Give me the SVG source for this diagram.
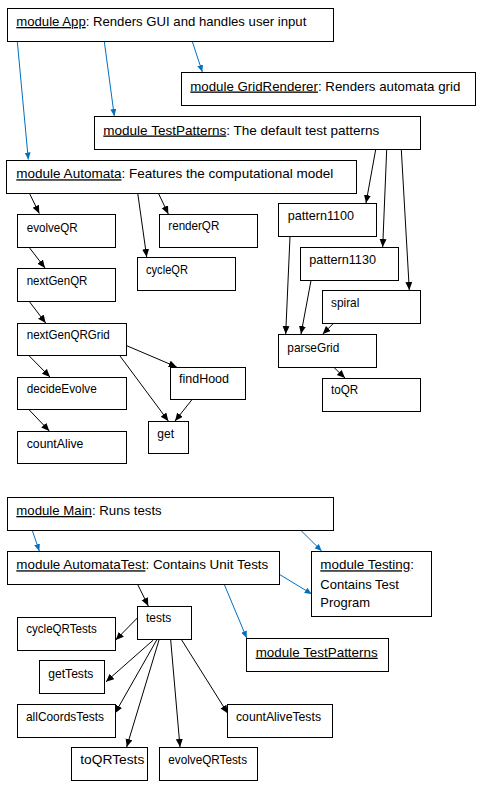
<svg xmlns="http://www.w3.org/2000/svg" width="486" height="790" viewBox="0 0 486 790">
<style>
rect{fill:#fff;stroke:#000;stroke-width:1}
text{font-family:"Liberation Sans",Arial,sans-serif;font-size:13px;fill:#000}
.u{text-decoration:underline}
.k{stroke:#000;stroke-width:1;fill:none;marker-end:url(#ak)}
.b{stroke:#0070C0;stroke-width:1;fill:none;marker-end:url(#ab)}
</style>
<defs>
<marker id="ak" markerUnits="userSpaceOnUse" markerWidth="9" markerHeight="8" refX="8" refY="3.5" orient="auto"><path d="M0,0 L8,3.5 L0,7 z" fill="#000"/></marker>
<marker id="ab" markerUnits="userSpaceOnUse" markerWidth="8" markerHeight="7" refX="7" refY="3" orient="auto"><path d="M0,0 L7,3 L0,6 z" fill="#0070C0"/></marker>
</defs>
<g id="connectors">
<line class="b" x1="17.3" y1="41.5" x2="28.3" y2="159.5"/>
<line class="b" x1="104.3" y1="41.5" x2="114.3" y2="116"/>
<line class="b" x1="192.3" y1="41.5" x2="202.3" y2="72"/>
<line class="k" x1="29.3" y1="193" x2="39.3" y2="213.5"/>
<line class="k" x1="158.3" y1="193" x2="168.3" y2="214"/>
<line class="k" x1="137.7" y1="193" x2="146.7" y2="257"/>
<line class="k" x1="29.3" y1="247.5" x2="45" y2="268"/>
<line class="k" x1="29.3" y1="301.5" x2="45.7" y2="323"/>
<line class="k" x1="29.3" y1="356" x2="50" y2="377"/>
<line class="k" x1="29.3" y1="410" x2="49.3" y2="431"/>
<line class="k" x1="126.7" y1="345.7" x2="176.7" y2="367"/>
<line class="k" x1="120" y1="356" x2="168.3" y2="421"/>
<line class="k" x1="191.7" y1="400" x2="175" y2="421"/>
<line class="k" x1="375.7" y1="149.5" x2="366" y2="203"/>
<line class="k" x1="386.7" y1="149.5" x2="382.7" y2="247"/>
<line class="k" x1="401.3" y1="149.5" x2="409.3" y2="290"/>
<line class="k" x1="290" y1="236.5" x2="285.7" y2="334"/>
<line class="k" x1="311" y1="280.5" x2="301" y2="334"/>
<line class="k" x1="333.3" y1="323.5" x2="322.7" y2="334"/>
<line class="k" x1="334" y1="367.5" x2="345" y2="378"/>
<line class="b" x1="32.3" y1="530.5" x2="39.3" y2="551"/>
<line class="b" x1="301" y1="530.5" x2="321.7" y2="551"/>
<line class="b" x1="279.3" y1="574.3" x2="311.7" y2="594"/>
<line class="b" x1="224.3" y1="584.5" x2="246.7" y2="638"/>
<line class="k" x1="137.7" y1="584.5" x2="148.3" y2="606"/>
<line class="k" x1="137.3" y1="618" x2="115.7" y2="640"/>
<line class="k" x1="153.3" y1="640" x2="106" y2="681.7"/>
<line class="k" x1="156.7" y1="640" x2="115" y2="713.3"/>
<line class="k" x1="159" y1="640" x2="126.7" y2="747"/>
<line class="k" x1="170.7" y1="640" x2="180" y2="747"/>
<line class="k" x1="181.7" y1="640" x2="227.7" y2="713.3"/>
</g>
<g id="app"><rect x="7.5" y="8.5" width="326" height="33"/><text x="16.3" y="26" textLength="290" lengthAdjust="spacingAndGlyphs"><tspan class="u">module App</tspan>: Renders GUI and handles user input</text></g>
<g id="gridrenderer"><rect x="181.5" y="72.5" width="294" height="33"/><text x="190.3" y="90.5" textLength="270" lengthAdjust="spacingAndGlyphs"><tspan class="u">module GridRenderer</tspan>: Renders automata grid</text></g>
<g id="testpatterns"><rect x="94.5" y="116.5" width="326" height="33"/><text x="103.3" y="134.5" textLength="276" lengthAdjust="spacingAndGlyphs"><tspan class="u">module TestPatterns</tspan>: The default test patterns</text></g>
<g id="automata"><rect x="6.5" y="160.5" width="350" height="33"/><text x="16.3" y="178.3" textLength="317" lengthAdjust="spacingAndGlyphs"><tspan class="u">module Automata</tspan>: Features the computational model</text></g>
<g id="evolveQR"><rect x="17.5" y="214.5" width="98" height="33"/><text x="26.7" y="231.7" textLength="51" lengthAdjust="spacingAndGlyphs">evolveQR</text></g>
<g id="renderQR"><rect x="159.5" y="214.5" width="98" height="33"/><text x="168.3" y="230" textLength="51" lengthAdjust="spacingAndGlyphs">renderQR</text></g>
<g id="cycleQR"><rect x="137.5" y="257.5" width="98" height="33"/><text x="146" y="274" textLength="42" lengthAdjust="spacingAndGlyphs">cycleQR</text></g>
<g id="nextGenQR"><rect x="17.5" y="268.5" width="98" height="33"/><text x="26.7" y="285" textLength="60.7" lengthAdjust="spacingAndGlyphs">nextGenQR</text></g>
<g id="nextGenQRGrid"><rect x="17.5" y="323.5" width="109" height="32"/><text x="26.7" y="339" textLength="83" lengthAdjust="spacingAndGlyphs">nextGenQRGrid</text></g>
<g id="decideEvolve"><rect x="17.5" y="377.5" width="109" height="32"/><text x="26.7" y="393.3" textLength="70" lengthAdjust="spacingAndGlyphs">decideEvolve</text></g>
<g id="countAlive"><rect x="17.5" y="431.5" width="109" height="32"/><text x="26.7" y="448.3" textLength="56.7" lengthAdjust="spacingAndGlyphs">countAlive</text></g>
<g id="findHood"><rect x="170.5" y="367.5" width="75" height="32"/><text x="179" y="382.7" textLength="50" lengthAdjust="spacingAndGlyphs">findHood</text></g>
<g id="get"><rect x="148.5" y="421.5" width="40" height="32"/><text x="157.3" y="438.3" textLength="16.7" lengthAdjust="spacingAndGlyphs">get</text></g>
<g id="pattern1100"><rect x="278.5" y="203.5" width="98" height="33"/><text x="287.7" y="220" textLength="66.3" lengthAdjust="spacingAndGlyphs">pattern1100</text></g>
<g id="pattern1130"><rect x="300.5" y="247.5" width="98" height="33"/><text x="309.3" y="264" textLength="66.7" lengthAdjust="spacingAndGlyphs">pattern1130</text></g>
<g id="spiral"><rect x="322.5" y="290.5" width="98" height="33"/><text x="331" y="306.7" textLength="28.3" lengthAdjust="spacingAndGlyphs">spiral</text></g>
<g id="parseGrid"><rect x="278.5" y="334.5" width="98" height="33"/><text x="287.3" y="351.7" textLength="52" lengthAdjust="spacingAndGlyphs">parseGrid</text></g>
<g id="toQR"><rect x="322.5" y="378.5" width="98" height="33"/><text x="331" y="394" textLength="27.3" lengthAdjust="spacingAndGlyphs">toQR</text></g>
<g id="main"><rect x="7.5" y="497.5" width="326" height="33"/><text x="16.3" y="515" textLength="145.4" lengthAdjust="spacingAndGlyphs"><tspan class="u">module Main</tspan>: Runs tests</text></g>
<g id="automatatest"><rect x="7.5" y="551.5" width="272" height="33"/><text x="16.3" y="569.3" textLength="252" lengthAdjust="spacingAndGlyphs"><tspan class="u">module AutomataTest</tspan>: Contains Unit Tests</text></g>
<g id="testing"><rect x="311.5" y="551.5" width="120" height="65"/><text x="320.3" y="569.3" textLength="93.7" lengthAdjust="spacingAndGlyphs"><tspan class="u">module Testing</tspan>:</text><text x="320.3" y="588.7" textLength="78.7" lengthAdjust="spacingAndGlyphs">Contains Test</text><text x="320.3" y="607.3" textLength="49.7" lengthAdjust="spacingAndGlyphs">Program</text></g>
<g id="tests"><rect x="137.5" y="606.5" width="54" height="33"/><text x="146" y="622" textLength="25.3" lengthAdjust="spacingAndGlyphs">tests</text></g>
<g id="cycleQRTests"><rect x="17.5" y="617.5" width="98" height="33"/><text x="26.3" y="633.3" textLength="70.4" lengthAdjust="spacingAndGlyphs">cycleQRTests</text></g>
<g id="testpatterns2"><rect x="246.5" y="638.5" width="142" height="33"/><text x="255.7" y="656.7" textLength="122" lengthAdjust="spacingAndGlyphs" class="u">module TestPatterns</text></g>
<g id="getTests"><rect x="39.5" y="660.5" width="65" height="33"/><text x="48.3" y="677.7" textLength="45" lengthAdjust="spacingAndGlyphs">getTests</text></g>
<g id="allCoordsTests"><rect x="17.5" y="704.5" width="98" height="33"/><text x="26" y="720.7" textLength="78" lengthAdjust="spacingAndGlyphs">allCoordsTests</text></g>
<g id="toQRTests"><rect x="71.5" y="747.5" width="76" height="33"/><text x="80.3" y="764.3" textLength="64" lengthAdjust="spacingAndGlyphs">toQRTests</text></g>
<g id="evolveQRTests"><rect x="159.5" y="747.5" width="98" height="33"/><text x="168.3" y="764.3" textLength="78.7" lengthAdjust="spacingAndGlyphs">evolveQRTests</text></g>
<g id="countAliveTests"><rect x="227.5" y="704.5" width="105" height="33"/><text x="236" y="720.7" textLength="85" lengthAdjust="spacingAndGlyphs">countAliveTests</text></g>
</svg>
